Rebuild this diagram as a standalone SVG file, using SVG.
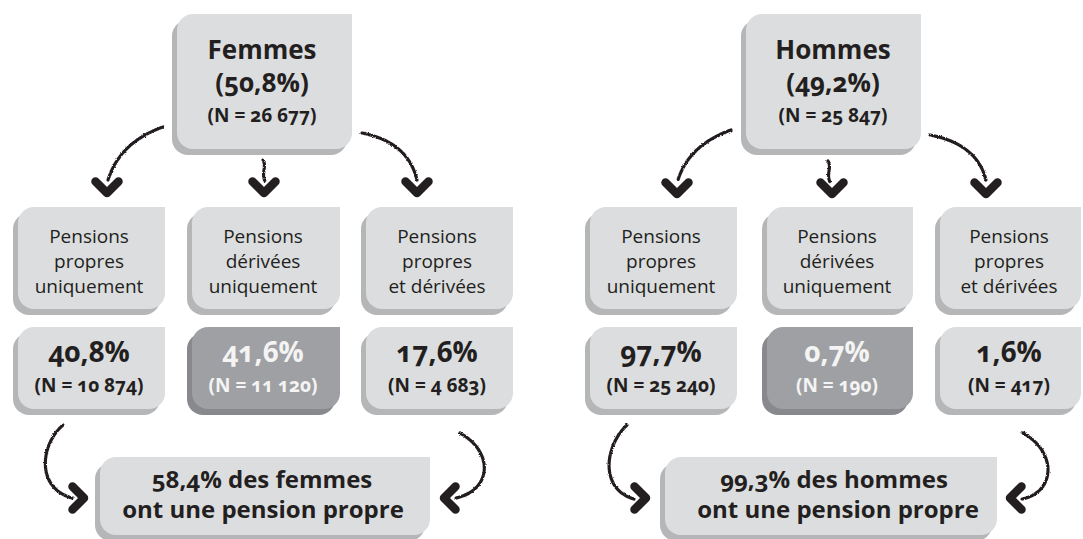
<svg xmlns="http://www.w3.org/2000/svg" xmlns:xlink="http://www.w3.org/1999/xlink" width="1083" height="539" viewBox="0 0 1083 539">
<style>
.face{fill:#dcdddf}
.shadow{fill:#b5b6b8}
.dface{fill:#9fa0a3}
.dshadow{fill:#88898c}
text{font-family:"Open Sans","Noto Sans","DejaVu Sans",sans-serif;fill:#231f20;text-anchor:middle;font-variant-numeric:oldstyle-nums;font-feature-settings:"onum" 1}
.b{font-weight:700}
.title{font-size:26px}
.n{font-size:19px}
.lbl{font-size:19px;font-weight:400}
.pct{font-size:28px}
.w{fill:#f4f4f4}
.sum{font-size:24px}
.line{fill:none;stroke:#231f20;stroke-width:3.2;stroke-linecap:round;stroke-dasharray:3 0.8 1.5 0.7;filter:url(#rough)}
.chev{fill:none;stroke:#231f20;stroke-width:8.5;stroke-linecap:round;stroke-linejoin:round}
</style>
<defs>
<filter id="rough" filterUnits="userSpaceOnUse" x="0" y="0" width="1083" height="539">
<feTurbulence type="fractalNoise" baseFrequency="0.9" numOctaves="2" seed="3" result="n"/>
<feDisplacementMap in="SourceGraphic" in2="n" scale="2.5" xChannelSelector="R" yChannelSelector="G"/>
</filter>
<path id="chev" d="M-11.5,-6.5 L0,5 L11.5,-6.5"/>
</defs>
<rect width="1083" height="539" fill="#ffffff"/>

<g id="femmes">
<path class="shadow" d="M172,36 A16,16 0 0 1 188,20 H347 V139 A16,16 0 0 1 331,155 H188 A16,16 0 0 1 172,139 Z"/>
<path class="face" d="M177,30 A16,16 0 0 1 193,14 H352 V133 A16,16 0 0 1 336,149 H193 A16,16 0 0 1 177,133 Z"/>
<text class="b title" x="262" y="59">Femmes</text>
<text class="b title" x="262" y="92">(50,8%)</text>
<text class="b n" x="262" y="122">(N = 26 677)</text>
</g>

<g id="hommes">
<path class="shadow" d="M741,36 A16,16 0 0 1 757,20 H916 V139 A16,16 0 0 1 900,155 H757 A16,16 0 0 1 741,139 Z"/>
<path class="face" d="M746,30 A16,16 0 0 1 762,14 H921 V133 A16,16 0 0 1 905,149 H762 A16,16 0 0 1 746,133 Z"/>
<text class="b title" x="833" y="59">Hommes</text>
<text class="b title" x="833" y="92">(49,2%)</text>
<text class="b n" x="833" y="122">(N = 25 847)</text>
</g>

<g id="f-propres">
<path class="shadow" d="M13,229 A16,16 0 0 1 29,213 H160 V299 A16,16 0 0 1 144,315 H29 A16,16 0 0 1 13,299 Z"/>
<path class="face" d="M18,223 A16,16 0 0 1 34,207 H165 V293 A16,16 0 0 1 149,309 H34 A16,16 0 0 1 18,293 Z"/>
<text class="lbl" x="89" y="243">Pensions</text>
<text class="lbl" x="89" y="268">propres</text>
<text class="lbl" x="89" y="293">uniquement</text>
</g>

<g id="f-derivees">
<path class="shadow" d="M187,229 A16,16 0 0 1 203,213 H335 V299 A16,16 0 0 1 319,315 H203 A16,16 0 0 1 187,299 Z"/>
<path class="face" d="M192,223 A16,16 0 0 1 208,207 H340 V293 A16,16 0 0 1 324,309 H208 A16,16 0 0 1 192,293 Z"/>
<text class="lbl" x="263" y="243">Pensions</text>
<text class="lbl" x="263" y="268">dérivées</text>
<text class="lbl" x="263" y="293">uniquement</text>
</g>

<g id="f-mixtes">
<path class="shadow" d="M361,229 A16,16 0 0 1 377,213 H508 V299 A16,16 0 0 1 492,315 H377 A16,16 0 0 1 361,299 Z"/>
<path class="face" d="M366,223 A16,16 0 0 1 382,207 H513 V293 A16,16 0 0 1 497,309 H382 A16,16 0 0 1 366,293 Z"/>
<text class="lbl" x="437" y="243">Pensions</text>
<text class="lbl" x="437" y="268">propres</text>
<text class="lbl" x="437" y="293">et dérivées</text>
</g>

<g id="h-propres">
<path class="shadow" d="M585,229 A16,16 0 0 1 601,213 H732 V299 A16,16 0 0 1 716,315 H601 A16,16 0 0 1 585,299 Z"/>
<path class="face" d="M590,223 A16,16 0 0 1 606,207 H737 V293 A16,16 0 0 1 721,309 H606 A16,16 0 0 1 590,293 Z"/>
<text class="lbl" x="661" y="243">Pensions</text>
<text class="lbl" x="661" y="268">propres</text>
<text class="lbl" x="661" y="293">uniquement</text>
</g>

<g id="h-derivees">
<path class="shadow" d="M762,229 A16,16 0 0 1 778,213 H908 V299 A16,16 0 0 1 892,315 H778 A16,16 0 0 1 762,299 Z"/>
<path class="face" d="M767,223 A16,16 0 0 1 783,207 H913 V293 A16,16 0 0 1 897,309 H783 A16,16 0 0 1 767,293 Z"/>
<text class="lbl" x="837" y="243">Pensions</text>
<text class="lbl" x="837" y="268">dérivées</text>
<text class="lbl" x="837" y="293">uniquement</text>
</g>

<g id="h-mixtes">
<path class="shadow" d="M935,229 A16,16 0 0 1 951,213 H1076 V299 A16,16 0 0 1 1060,315 H951 A16,16 0 0 1 935,299 Z"/>
<path class="face" d="M940,223 A16,16 0 0 1 956,207 H1081 V293 A16,16 0 0 1 1065,309 H956 A16,16 0 0 1 940,293 Z"/>
<text class="lbl" x="1009" y="243">Pensions</text>
<text class="lbl" x="1009" y="268">propres</text>
<text class="lbl" x="1009" y="293">et dérivées</text>
</g>

<g id="f-pct-propres">
<path class="shadow" d="M13,349 A16,16 0 0 1 29,333 H160 V399 A16,16 0 0 1 144,415 H29 A16,16 0 0 1 13,399 Z"/>
<path class="face" d="M18,343 A16,16 0 0 1 34,327 H165 V393 A16,16 0 0 1 149,409 H34 A16,16 0 0 1 18,393 Z"/>
<text class="b pct" x="89" y="362">40,8%</text>
<text class="b n" x="89" y="392">(N = 10 874)</text>
</g>

<g id="f-pct-derivees">
<path class="dshadow" d="M187,349 A16,16 0 0 1 203,333 H335 V399 A16,16 0 0 1 319,415 H203 A16,16 0 0 1 187,399 Z"/>
<path class="dface" d="M192,343 A16,16 0 0 1 208,327 H340 V393 A16,16 0 0 1 324,409 H208 A16,16 0 0 1 192,393 Z"/>
<text class="b pct w" x="263" y="362">41,6%</text>
<text class="b n w" x="263" y="392">(N = 11 120)</text>
</g>

<g id="f-pct-mixtes">
<path class="shadow" d="M361,349 A16,16 0 0 1 377,333 H508 V399 A16,16 0 0 1 492,415 H377 A16,16 0 0 1 361,399 Z"/>
<path class="face" d="M366,343 A16,16 0 0 1 382,327 H513 V393 A16,16 0 0 1 497,409 H382 A16,16 0 0 1 366,393 Z"/>
<text class="b pct" x="437" y="362">17,6%</text>
<text class="b n" x="437" y="392">(N = 4 683)</text>
</g>

<g id="h-pct-propres">
<path class="shadow" d="M585,349 A16,16 0 0 1 601,333 H732 V399 A16,16 0 0 1 716,415 H601 A16,16 0 0 1 585,399 Z"/>
<path class="face" d="M590,343 A16,16 0 0 1 606,327 H737 V393 A16,16 0 0 1 721,409 H606 A16,16 0 0 1 590,393 Z"/>
<text class="b pct" x="661" y="362">97,7%</text>
<text class="b n" x="661" y="392">(N = 25 240)</text>
</g>

<g id="h-pct-derivees">
<path class="dshadow" d="M762,349 A16,16 0 0 1 778,333 H908 V399 A16,16 0 0 1 892,415 H778 A16,16 0 0 1 762,399 Z"/>
<path class="dface" d="M767,343 A16,16 0 0 1 783,327 H913 V393 A16,16 0 0 1 897,409 H783 A16,16 0 0 1 767,393 Z"/>
<text class="b pct w" x="837" y="362">0,7%</text>
<text class="b n w" x="837" y="392">(N = 190)</text>
</g>

<g id="h-pct-mixtes">
<path class="shadow" d="M935,349 A16,16 0 0 1 951,333 H1076 V399 A16,16 0 0 1 1060,415 H951 A16,16 0 0 1 935,399 Z"/>
<path class="face" d="M940,343 A16,16 0 0 1 956,327 H1081 V393 A16,16 0 0 1 1065,409 H956 A16,16 0 0 1 940,393 Z"/>
<text class="b pct" x="1009" y="362">1,6%</text>
<text class="b n" x="1009" y="392">(N = 417)</text>
</g>

<g id="f-total">
<path class="shadow" d="M95,479 A16,16 0 0 1 111,463 H425 V525 A16,16 0 0 1 409,541 H111 A16,16 0 0 1 95,525 Z"/>
<path class="face" d="M100,473 A16,16 0 0 1 116,457 H430 V519 A16,16 0 0 1 414,535 H116 A16,16 0 0 1 100,519 Z"/>
<text class="b sum" x="262" y="488">58,4% des femmes</text>
<text class="b sum" x="263" y="518">ont une pension propre</text>
</g>

<g id="h-total">
<path class="shadow" d="M660,479 A16,16 0 0 1 676,463 H992 V525 A16,16 0 0 1 976,541 H676 A16,16 0 0 1 660,525 Z"/>
<path class="face" d="M665,473 A16,16 0 0 1 681,457 H997 V519 A16,16 0 0 1 981,535 H681 A16,16 0 0 1 665,519 Z"/>
<text class="b sum" x="834" y="488">99,3% des hommes</text>
<text class="b sum" x="838" y="518">ont une pension propre</text>
</g>

<g id="connectors">
<path class="line" d="M163,127 Q120,142 108,180"/>
<path class="line" d="M263,160 C267,167 261,173 265,181"/>
<path class="line" d="M362,133 Q408,142 417,180"/>
<path class="line" d="M731,130 Q689,145 678,180"/>
<path class="line" d="M828,161 C832,168 826,174 830,182"/>
<path class="line" d="M930,135 Q977,144 986,180"/>
<path class="line" d="M63,425 C40,445 36,488 72,498"/>
<path class="line" d="M460,433 C494,452 492,490 456,498"/>
<path class="line" d="M627,425 C603,448 601,490 634,499"/>
<path class="line" d="M1023,433 C1057,452 1056,492 1022,499"/>
<use href="#chev" class="chev" transform="translate(107,188)"/>
<use href="#chev" class="chev" transform="translate(264,188)"/>
<use href="#chev" class="chev" transform="translate(417,188)"/>
<use href="#chev" class="chev" transform="translate(677,189)"/>
<use href="#chev" class="chev" transform="translate(832,189)"/>
<use href="#chev" class="chev" transform="translate(986,189)"/>
<use href="#chev" class="chev" transform="translate(79,498) rotate(-90)"/>
<use href="#chev" class="chev" transform="translate(449,498) rotate(90)"/>
<use href="#chev" class="chev" transform="translate(641,498) rotate(-90)"/>
<use href="#chev" class="chev" transform="translate(1015,498) rotate(90)"/>
</g>
</svg>
